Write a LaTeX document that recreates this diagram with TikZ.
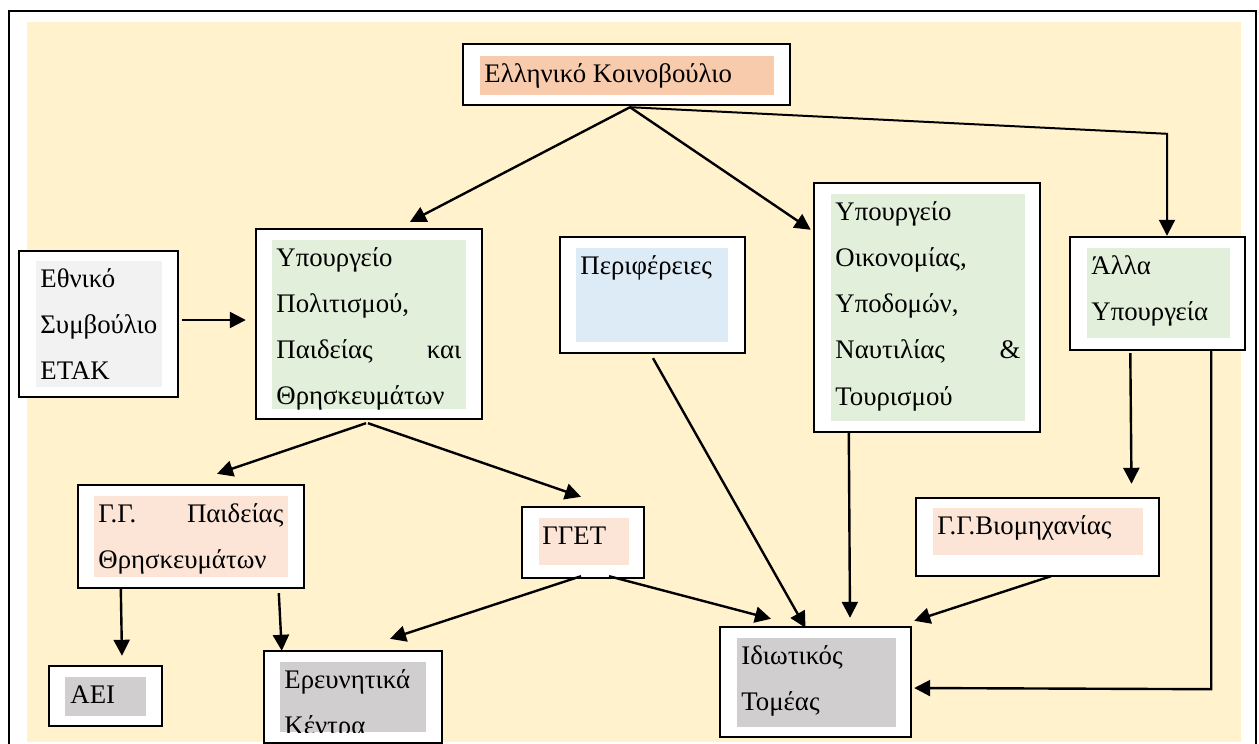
\documentclass[tikz,border=0pt]{standalone}
\usepackage{fontspec}
\setmainfont{Liberation Serif}
\usetikzlibrary{arrows.meta,calc,fit}

\definecolor{cream}{HTML}{FFF2CC}
\definecolor{salmon}{HTML}{F8CBAD}
\definecolor{paleg}{HTML}{F2F2F2}
\definecolor{mgreen}{HTML}{E2EFDA}
\definecolor{mblue}{HTML}{DDEBF7}
\definecolor{mpeach}{HTML}{FCE4D6}
\definecolor{mgrey}{HTML}{D0CECE}

\newcommand{\lnstrut}{\rule{0pt}{12.8pt}}

\tikzset{
    outbox/.style={draw=black, line width=1.2pt, fill=white, inner sep=0pt},
    txt/.style={anchor=north west, inner sep=0pt, align=left, font=\fontsize{13.4}{23.15}\selectfont},
    arr/.style={line width=1.2pt, -{Triangle[length=8pt,width=8pt]}},
}

\begin{document}
\begin{tikzpicture}[x=0.5pt, y=-0.5pt]
    \useasboundingbox (0,0) rectangle (1259,744);
    \clip (0,0) rectangle (1259,744);

    % page frame and background
    \draw[line width=1.2pt] (9,11) rectangle (1256,780);
    \fill[cream] (27,22) rectangle (1241,742);

    % top level
    \node[outbox, fit={(463,44) (790,105)}] (parl) {};
    \fill[salmon] (480,56) rectangle (774,95);
    \node[txt] (parl-t) at (484,56) {\lnstrut Ελληνικό Κοινοβούλιο};

    % ministries and regions
    \node[outbox, fit={(19,251) (178,397)}] (etak) {};
    \fill[paleg] (36,261) rectangle (162,387);
    \node[txt] (etak-t) at (40,261) {\lnstrut Εθνικό\\Συμβούλιο\\ΕΤΑΚ};

    \node[outbox, fit={(256,229) (482,419)}] (pol) {};
    \fill[mgreen] (272,240) rectangle (466,409);
    \node[txt, text width=92.5pt] (pol-t) at (276,240)
        {\lnstrut Υπουργείο\\Πολιτισμού,\\Παιδείας\hfill και\\Θρησκευμάτων};

    \node[outbox, fit={(560,237) (745,353)}] (perif) {};
    \fill[mblue] (576,248) rectangle (728,342);
    \node[txt] (perif-t) at (580,248) {\lnstrut Περιφέρειες};

    \node[outbox, fit={(814,183) (1040,432)}] (econ) {};
    \fill[mgreen] (831,194) rectangle (1025,421);
    \node[txt, text width=92.5pt] (econ-t) at (835,194)
        {\lnstrut Υπουργείο\\Οικονομίας,\\Υποδομών,\\Ναυτιλίας\hfill \&\\Τουρισμού};

    \node[outbox, fit={(1070,237) (1245,350)}] (allo) {};
    \fill[mgreen] (1087,248) rectangle (1230,338);
    \node[txt] (allo-t) at (1091,248) {\lnstrut Άλλα\\Υπουργεία};

    % general secretariats
    \node[outbox, fit={(78,485) (304,588)}] (gg) {};
    \fill[mpeach] (94,496) rectangle (288,577);
    \node[txt, text width=92.5pt] (gg-t) at (98,496) {\lnstrut Γ.Γ.\hfill Παιδείας\\Θρησκευμάτων};

    \node[outbox, fit={(522,507) (644,578)}] (gget) {};
    \fill[mpeach] (539,518) rectangle (629,565);
    \node[txt] (gget-t) at (542,518) {\lnstrut ΓΓΕΤ};

    \node[outbox, fit={(916,498) (1159,576)}] (biom) {};
    \fill[mpeach] (933,508) rectangle (1143,555);
    \node[txt] (biom-t) at (937,508) {\lnstrut Γ.Γ.Βιομηχανίας};

    % bottom level
    \node[outbox, fit={(49,666) (162,726)}] (aei) {};
    \fill[mgrey] (65,677) rectangle (146,716);
    \node[txt] (aei-t) at (70,677) {\lnstrut ΑΕΙ};

    \node[outbox, fit={(264,651) (442,743)}] (erev) {};
    \begin{scope}
        \clip (280,662) rectangle (426,732);
        \fill[mgrey] (280,662) rectangle (426,732);
        \node[txt] (erev-t) at (284,662) {\lnstrut Ερευνητικά\\Κέντρα};
    \end{scope}

    \node[outbox, fit={(720,627) (911,737)}] (idiot) {};
    \fill[mgrey] (737,638) rectangle (896,727);
    \node[txt] (idiot-t) at (741,638) {\lnstrut Ιδιωτικός\\Τομέας};

    % connectors
    \coordinate (ptop) at ($(parl.south)+(3.5,1)$);
    \coordinate (bend1) at ($(allo.north)+(9.5,-102)$);
    \coordinate (bend2) at ($(allo.south east)+(-35,338)$);
    \draw[arr] (ptop) -- ($(pol.north)+(41,-6)$);
    \draw[arr] (ptop) -- ($(econ.north west)+(-2,48)$);
    \draw[arr, line width=1pt] (ptop) -- (bend1) -- (bend1 |- allo.north);
    \draw[arr] ($(etak.east)+(3,-4)$) -- ($(pol.west)+(-9,-4)$);
    \draw[arr] ($(pol.south)+(-3,3)$) -- ($(gg.north)+(26,-10)$);
    \draw[arr] ($(pol.south)+(-1,3)$) -- ($(gget.north)+(-2,-9)$);
    \draw[arr] ($(gg.south west)+(44,0)$) -- ($(aei.north)+(16.5,-9)$);
    \draw[arr] ($(gg.south west)+(202,4)$) -- ($(erev.north west)+(19,1)$);
    \draw[arr] ($(gget.south)+(-2,-3)$) -- ($(erev.north)+(37,-11)$);
    \draw[arr] ($(gget.south)+(26,-3)$) -- ($(idiot.north)+(-44.5,-7)$);
    \draw[arr] ($(perif.south)+(0.5,4)$) -- ($(idiot.north)+(-10,2)$);
    \draw[arr] ($(econ.south west)+(36,0)$) -- ($(idiot.north)+(34.5,-8)$);
    \draw[arr] ($(allo.south west)+(61.5,2)$) -- ($(biom.north)+(94,-13)$);
    \draw[arr] ($(biom.south)+(13.5,-1)$) -- ($(idiot.north east)+(2,-5)$);
    \draw[arr] ($(allo.south east)+(-35,0)$) -- (bend2) -- ($(idiot.east)+(2,6)$);

\end{tikzpicture}
\end{document}
